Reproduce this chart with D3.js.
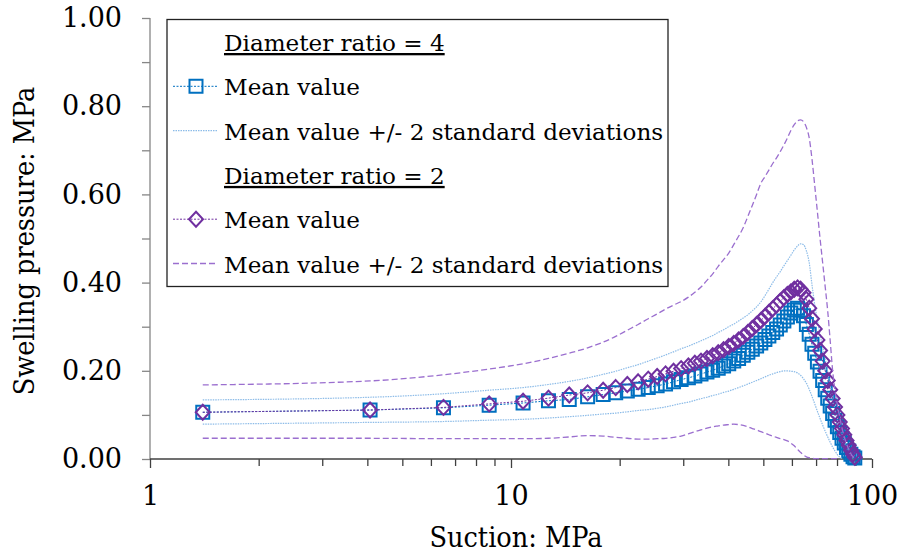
<!DOCTYPE html>
<html><head><meta charset="utf-8">
<script src="https://cdn.jsdelivr.net/npm/d3@7"></script>
<style>
body{margin:0;background:#fff;}
text{font-family:"DejaVu Serif",serif;fill:#000;}
.title{font-family:"DejaVu Serif Condensed","DejaVu Serif",serif;font-stretch:condensed;}
</style>
</head><body>
<svg id="chart" width="899" height="554"></svg>
<script>
// ---- data ----
const suction = [1.4, 4.07, 6.5, 8.7, 10.8, 12.7, 14.5, 16.3, 18.0, 19.5, 21.0,
  22.5, 24.0, 25.4, 26.8, 28.2, 29.6, 31.0, 32.3, 33.6, 34.9, 36.2, 37.5, 38.8, 40.1, 41.4, 42.7, 44.0, 45.3, 46.6, 47.9, 49.2, 50.5, 51.8, 53.1, 54.4, 55.7, 57.0, 58.3, 59.6, 60.9, 62.2,
  63.4, 64.6, 65.8, 67.0, 68.2, 69.4, 70.6, 71.8, 73.0, 74.2, 75.4, 76.6, 77.8, 79.0, 80.2, 81.4, 82.6, 83.8, 85.0, 86.2, 87.4, 88.6, 89.6];

const meanRatio4 = [0.106, 0.111, 0.116, 0.122, 0.127, 0.132, 0.135, 0.141, 0.146, 0.150, 0.154,
  0.158, 0.162, 0.166, 0.170, 0.175, 0.180, 0.184, 0.188, 0.193, 0.197, 0.201, 0.206, 0.211, 0.216, 0.222, 0.228, 0.235, 0.242, 0.249, 0.256, 0.263, 0.271, 0.279, 0.287, 0.295, 0.304, 0.313, 0.322, 0.331, 0.338, 0.342,
  0.338, 0.325, 0.305, 0.283, 0.260, 0.240, 0.220, 0.199, 0.178, 0.157, 0.138, 0.120, 0.103, 0.088, 0.073, 0.060, 0.047, 0.036, 0.026, 0.018, 0.011, 0.005, 0.002];

const upperRatio4 = [0.134, 0.140, 0.148, 0.156, 0.162, 0.169, 0.176, 0.184, 0.192, 0.199, 0.207,
  0.214, 0.222, 0.229, 0.236, 0.243, 0.250, 0.256, 0.262, 0.268, 0.274, 0.280, 0.287, 0.293, 0.300, 0.306, 0.313, 0.320, 0.327, 0.336, 0.345, 0.356, 0.370, 0.385, 0.400, 0.413, 0.425, 0.438, 0.450, 0.462, 0.474, 0.483,
  0.488, 0.486, 0.472, 0.445, 0.395, 0.350, 0.315, 0.282, 0.255, 0.227, 0.197, 0.168, 0.138, 0.110, 0.088, 0.068, 0.050, 0.036, 0.024, 0.014, 0.006, 0.002, null];

const lowerRatio4 = [0.079, 0.083, 0.085, 0.088, 0.090, 0.093, 0.096, 0.099, 0.102, 0.104, 0.107,
  0.110, 0.112, 0.115, 0.118, 0.122, 0.126, 0.129, 0.133, 0.137, 0.140, 0.144, 0.147, 0.151, 0.154, 0.158, 0.162, 0.166, 0.170, 0.174, 0.178, 0.182, 0.186, 0.190, 0.193, 0.196, 0.198, 0.200, 0.200, 0.199, 0.198, 0.195,
  0.190, 0.182, 0.172, 0.158, 0.142, 0.125, 0.108, 0.092, 0.077, 0.063, 0.050, 0.038, 0.027, 0.018, 0.010, 0.004, 0.001, null, null, null, null, null, null];

const meanRatio2 = [0.106, 0.111, 0.117, 0.125, 0.131, 0.138, 0.145, 0.150, 0.156, 0.162, 0.169,
  0.175, 0.181, 0.187, 0.193, 0.199, 0.205, 0.211, 0.217, 0.222, 0.228, 0.234, 0.241, 0.248, 0.255, 0.262, 0.270, 0.278, 0.287, 0.296, 0.305, 0.314, 0.323, 0.332, 0.341, 0.349, 0.358, 0.366, 0.373, 0.379, 0.385, 0.388,
  0.385, 0.377, 0.362, 0.342, 0.318, 0.295, 0.270, 0.246, 0.222, 0.200, 0.178, 0.157, 0.137, 0.118, 0.100, 0.084, 0.069, 0.055, 0.042, 0.031, 0.020, 0.011, 0.004];

const upperRatio2 = [0.168, 0.177, 0.191, 0.204, 0.216, 0.228, 0.240, 0.252, 0.265, 0.278, 0.292,
  0.305, 0.318, 0.329, 0.340, 0.349, 0.357, 0.367, 0.378, 0.390, 0.405, 0.420, 0.437, 0.452, 0.467, 0.486, 0.505, 0.525, 0.550, 0.575, 0.600, 0.625, 0.640, 0.655, 0.670, 0.683, 0.697, 0.712, 0.728, 0.745, 0.758, 0.767,
  0.769, 0.765, 0.752, 0.728, 0.680, 0.620, 0.560, 0.500, 0.445, 0.390, 0.335, 0.268, 0.200, 0.155, 0.122, 0.095, 0.070, 0.050, 0.035, 0.022, 0.012, 0.005, 0.002];

const lowerRatio2 = [0.047, 0.047, 0.046, 0.046, 0.046, 0.047, 0.050, 0.053, 0.052, 0.049, 0.047,
  0.045, 0.045, 0.046, 0.047, 0.049, 0.052, 0.057, 0.062, 0.066, 0.070, 0.073, 0.075, 0.077, 0.078, 0.079, 0.078, 0.076, 0.073, 0.069, 0.066, 0.062, 0.059, 0.055, 0.052, 0.049, 0.046, 0.044, 0.041, 0.036, 0.030, 0.022,
  0.015, 0.009, 0.005, 0.003, 0.002, 0.001, 0.001, 0.001, 0.001, 0.001, 0.001, 0.001, 0.001, 0.001, 0.001, null, null, null, null, null, null, null, null];

const xMajorTicks = [1, 10, 100];
const xMinorTicks = [2, 3, 4, 5, 6, 7, 8, 9, 20, 30, 40, 50, 60, 70, 80, 90];
const yTickValues = [0, 0.1, 0.2, 0.3, 0.4, 0.5, 0.6, 0.7, 0.8, 0.9, 1.0];
const yLabelTicks = [0, 0.2, 0.4, 0.6, 0.8, 1.0];
const xTitle = "Suction: MPa";
const yTitle = "Swelling pressure: MPa";
const legendRows = [
  {label: "Diameter ratio = 4", kind: "header"},
  {label: "Mean value", kind: "mean4"},
  {label: "Mean value +/- 2 standard deviations", kind: "sd4"},
  {label: "Diameter ratio = 2", kind: "header"},
  {label: "Mean value", kind: "mean2"},
  {label: "Mean value +/- 2 standard deviations", kind: "sd2"}
];

// ---- styles ----
const FONT = "DejaVu Serif";
const BLUE = "#0070C0", BLUE_LIGHT = "#8DBCE8", PURPLE = "#7030A0", PURPLE_LIGHT = "#9B6FCF";
const styles = {
  mean4: {stroke: BLUE, dash: "2,1.5", width: 1},
  sd4:   {stroke: BLUE_LIGHT, dash: "1.5,1", width: 1.2},
  mean2: {stroke: PURPLE, dash: "2,1.5", width: 1},
  sd2:   {stroke: PURPLE_LIGHT, dash: "6,3", width: 1.3}
};

const svg = d3.select("#chart");
const x = d3.scaleLog().domain([1, 100]).range([150, 872]);
const y = d3.scaleLinear().domain([0, 1]).range([459, 18]);

// axes
const yAxis = d3.axisLeft(y).tickValues(yTickValues).tickSize(8).tickPadding(20)
  .tickFormat(d => yLabelTicks.some(v => Math.abs(v - d) < 1e-9) ? d.toFixed(2) : "");
const gy = svg.append("g").attr("transform", "translate(150,0)").call(yAxis);
gy.select(".domain").attr("stroke", "#868686").attr("stroke-width", 1.3).attr("d", "M0,18V459");
gy.selectAll(".tick line").attr("stroke", "#868686").attr("stroke-width", 1.3);
gy.selectAll(".tick text").style("font-size", "27px").style("font-family", FONT);

const xAxisMinor = d3.axisBottom(x).tickValues(xMinorTicks).tickSize(7).tickFormat("");
const gxm = svg.append("g").attr("transform", "translate(0,459)").call(xAxisMinor);
gxm.select(".domain").remove();
gxm.selectAll(".tick line").attr("stroke", "#404040").attr("stroke-width", 1.3);

const xAxis = d3.axisBottom(x).tickValues(xMajorTicks).tickSize(9).tickPadding(18).tickFormat(d3.format("d"));
const gx = svg.append("g").attr("transform", "translate(0,459)").call(xAxis);
gx.select(".domain").attr("stroke", "#404040").attr("stroke-width", 1.3).attr("d", "M150,0H872");
gx.selectAll(".tick line").attr("stroke", "#404040").attr("stroke-width", 1.3);
gx.selectAll(".tick text").style("font-size", "27px").style("font-family", FONT);

// axis titles
svg.append("text").attr("class", "title").attr("x", 516).attr("y", 547).attr("text-anchor", "middle")
  .style("font-size", "28.5px").text(xTitle);
svg.append("text").attr("class", "title").attr("transform", "translate(34,241) rotate(-90)").attr("text-anchor", "middle")
  .style("font-size", "28.5px").text(yTitle);

// series
function pts(vals) { return suction.map((s, i) => ({s, v: vals[i]})); }
const lineLinear = d3.line().defined(d => d.v != null).x(d => x(d.s)).y(d => y(d.v));
const lineSmooth = d3.line().defined(d => d.v != null).x(d => x(d.s)).y(d => y(d.v)).curve(d3.curveMonotoneX);

const plot = svg.append("g");
function drawLine(vals, st, gen) {
  plot.append("path").datum(pts(vals)).attr("fill", "none")
    .attr("stroke", st.stroke).attr("stroke-width", st.width).attr("stroke-dasharray", st.dash)
    .attr("d", gen);
}
const squarePath = "M-6.5,-6.5H6.5V6.5H-6.5Z";
const diamondPath = "M0,-7.5L7,0L0,7.5L-7,0Z";

// diameter ratio 4
drawLine(meanRatio4, styles.mean4, lineLinear);
plot.append("g").selectAll("path").data(pts(meanRatio4)).join("path")
  .attr("d", squarePath).attr("transform", d => `translate(${x(d.s)},${y(d.v)})`)
  .attr("fill", "none").attr("stroke", BLUE).attr("stroke-width", 2);
drawLine(upperRatio4, styles.sd4, lineSmooth);
drawLine(lowerRatio4, styles.sd4, lineSmooth);
// diameter ratio 2
drawLine(meanRatio2, styles.mean2, lineLinear);
plot.append("g").selectAll("path").data(pts(meanRatio2)).join("path")
  .attr("d", diamondPath).attr("transform", d => `translate(${x(d.s)},${y(d.v)})`)
  .attr("fill", "none").attr("stroke", PURPLE).attr("stroke-width", 2);
drawLine(upperRatio2, styles.sd2, lineSmooth);
drawLine(lowerRatio2, styles.sd2, lineSmooth);

// legend
const lg = svg.append("g");
lg.append("rect").attr("x", 167).attr("y", 19.5).attr("width", 501).attr("height", 267)
  .attr("fill", "#fff").attr("stroke", "#222").attr("stroke-width", 1.3);
legendRows.forEach((r, i) => {
  const base = 51 + i * 44.3;
  const cy = base - 9;
  const t = lg.append("text").attr("x", 224).attr("y", base).style("font-size", "23.1px").text(r.label);
  if (r.kind === "header") { t.style("text-decoration", "underline"); return; }
  const st = styles[r.kind];
  lg.append("line").attr("x1", 173).attr("x2", 218).attr("y1", cy).attr("y2", cy)
    .attr("stroke", st.stroke).attr("stroke-width", st.width).attr("stroke-dasharray", st.dash);
  if (r.kind === "mean4") {
    lg.append("path").attr("d", squarePath).attr("transform", `translate(196,${cy})`)
      .attr("fill", "none").attr("stroke", BLUE).attr("stroke-width", 2);
  } else if (r.kind === "mean2") {
    lg.append("path").attr("d", diamondPath).attr("transform", `translate(196,${cy})`)
      .attr("fill", "none").attr("stroke", PURPLE).attr("stroke-width", 2);
  }
});
</script>
</body></html>
